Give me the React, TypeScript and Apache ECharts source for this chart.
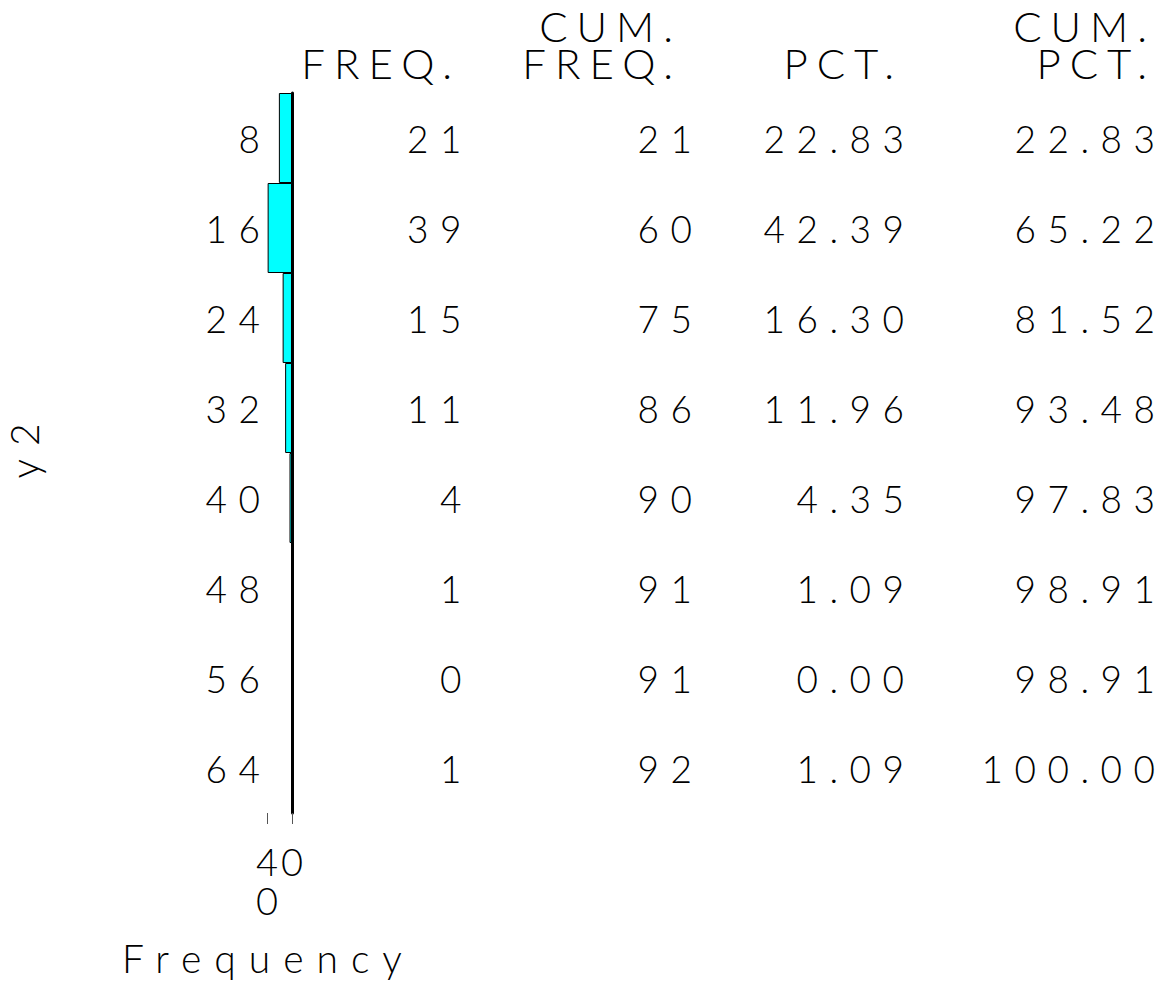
import React, { useEffect, useRef } from 'react';
import * as echarts from 'echarts';

// ---- data ----
const categories = ['8', '16', '24', '32', '40', '48', '56', '64'];
const freq = [21, 39, 15, 11, 4, 1, 0, 1];
const cumFreq = [21, 60, 75, 86, 90, 91, 91, 92];
const pct = ['22.83', '42.39', '16.30', '11.96', '4.35', '1.09', '0.00', '1.09'];
const cumPct = ['22.83', '65.22', '81.52', '93.48', '97.83', '98.91', '98.91', '100.00'];
const headerTop = ['', 'CUM.', '', 'CUM.'];
const headerBottom = ['FREQ.', 'FREQ.', 'PCT.', 'PCT.'];
const xMin = 0;
const xMax = 40;
const xTickStep = 40;
const xTitle = 'Frequency';
const yTitle = 'y2';

const FONT = 'Lato';
const WEIGHT = 300;

export default function App() {
  const ref = useRef<HTMLDivElement>(null);

  useEffect(() => {
    if (!ref.current) return;
    const chart = echarts.init(ref.current, null, { renderer: 'svg' });

    const dataFont = { fontSize: 37, fontFamily: FONT, fontWeight: WEIGHT, color: '#000' };
    const columns = [freq, cumFreq, pct, cumPct];
    const colOffsets = [181, 411.5, 623.5, 874.5];
    const headerAnchors = [461, 682, 903, 1156];

    const tableAxes = columns.map((arr, ci) => ({
      type: 'category',
      data: categories,
      inverse: true,
      position: 'right',
      offset: colOffsets[ci],
      axisLine: { show: false },
      axisTick: { show: false },
      splitLine: { show: false },
      axisLabel: {
        ...dataFont,
        align: 'right',
        margin: 0,
        padding: [6, 0, 0, 0],
        formatter: (_v: string, i: number) => String(arr[i]),
      },
    }));

    const graphics: any[] = [];
    headerBottom.forEach((t, i) => {
      const text = headerTop[i] ? headerTop[i] + '\n' + t : t;
      graphics.push({
        type: 'text',
        x: headerAnchors[i],
        y: headerTop[i] ? 44.5 : 63,
        style: {
          text,
          fontSize: 42,
          lineHeight: 37,
          fontFamily: FONT,
          fontWeight: WEIGHT,
          fill: '#000',
          textAlign: 'right',
          textVerticalAlign: 'middle',
        },
      });
    });
    graphics.push({
      type: 'text',
      x: 122,
      y: 958,
      style: { text: xTitle, fontSize: 39, fontFamily: FONT, fontWeight: WEIGHT, fill: '#000', textAlign: 'left', textVerticalAlign: 'middle' },
    });
    graphics.push({
      type: 'text',
      x: 24,
      y: 444.5,
      rotation: Math.PI / 2,
      style: { text: yTitle, fontSize: 39, fontFamily: FONT, fontWeight: WEIGHT, fill: '#000', textAlign: 'center', textVerticalAlign: 'middle' },
    });

    chart.setOption({
      animation: false,
      backgroundColor: '#fff',
      grid: { left: 267, top: 93, width: 25, height: 720, containLabel: false, outerBoundsMode: 'none' },
      xAxis: {
        type: 'value',
        min: xMin,
        max: xMax,
        interval: xTickStep,
        inverse: true,
        axisLine: { show: false, onZero: false },
        axisTick: { show: true, length: 11, lineStyle: { color: '#555', width: 1 } },
        splitLine: { show: false },
        axisLabel: {
          fontSize: 38,
          fontFamily: FONT,
          fontWeight: WEIGHT,
          color: '#000',
          lineHeight: 39,
          margin: 28.5,
          showMinLabel: true,
          showMaxLabel: true,
          hideOverlap: false,
          formatter: (v: number) => String(v).split('').join('\n'),
        },
      },
      yAxis: [
        {
          type: 'category',
          data: categories,
          inverse: true,
          position: 'left',
          axisLine: { show: false, onZero: false },
          axisTick: { show: false },
          splitLine: { show: false },
          axisLabel: { ...dataFont, margin: -4.5, padding: [6, 0, 0, 0] },
        },
        {
          type: 'category',
          data: categories,
          inverse: true,
          position: 'right',
          offset: 0,
          axisLine: { show: true, onZero: false, lineStyle: { color: '#000', width: 3 } },
          axisTick: { show: false },
          axisLabel: { show: false },
          splitLine: { show: false },
        },
        ...tableAxes,
      ],
      series: [
        {
          type: 'bar',
          yAxisIndex: 0,
          data: freq,
          barWidth: '100%',
          barCategoryGap: '0%',
          silent: true,
          itemStyle: { color: '#00FFFF', borderColor: '#000', borderWidth: 1 },
        },
      ],
      graphic: graphics,
    });

    return () => chart.dispose();
  }, []);

  return (
    <>
      <style>{`
        #chart text[style*="37px"] { letter-spacing: 11.5px; }
        #chart text[style*="42px"] { letter-spacing: 9px; }
        #chart text[style*="39px"] { letter-spacing: 13px; }
      `}</style>
      <div
        id="chart"
        ref={ref}
        style={{ position: 'absolute', left: 0, top: 0, width: 1167, height: 987, background: '#fff' }}
      />
    </>
  );
}
